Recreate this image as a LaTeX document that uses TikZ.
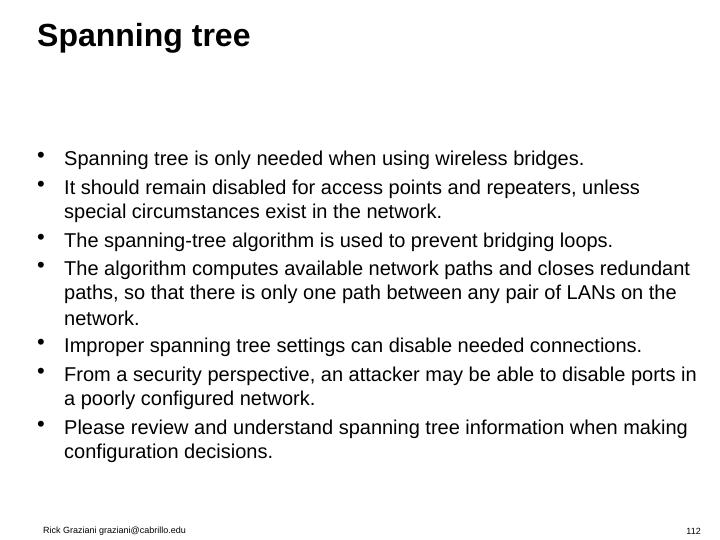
\documentclass[tikz,border=0pt]{standalone}
\usepackage{fontspec}
\setmainfont{Liberation Sans}
\begin{document}
\begin{tikzpicture}[x=1pt,y=-1pt,
  body/.style={anchor=west,inner sep=0pt,font=\fontsize{20}{24}\selectfont},
  bul/.style={anchor=center,inner sep=0pt,font=\fontsize{22}{24}\selectfont}]
\useasboundingbox (0,0) rectangle (720,540);
\node[anchor=west,inner sep=0pt,font=\fontsize{32}{36}\bfseries] (title) at (37,38) {Spanning tree};
\foreach \y in {157,186,239,267,344,373,426} \node[bul] at (41,\y) {•};
\node[body] (l1) at (64,160) {Spanning tree is only needed when using wireless bridges.};
\node[body] (l2) at (64,189) {It should remain disabled for access points and repeaters, unless};
\node[body] (l3) at (64,213) {special circumstances exist in the network.};
\node[body] (l4) at (64,242) {The spanning-tree algorithm is used to prevent bridging loops.};
\node[body] (l5) at (64,270) {The algorithm computes available network paths and closes redundant};
\node[body] (l6) at (64,294) {paths, so that there is only one path between any pair of LANs on the};
\node[body] (l7) at (64,318) {network.};
\node[body] (l8) at (64,347) {Improper spanning tree settings can disable needed connections.};
\node[body] (l9) at (64,376) {From a security perspective, an attacker may be able to disable ports in};
\node[body] (l10) at (64,400) {a poorly configured network.};
\node[body] (l11) at (64,429) {Please review and understand spanning tree information when making};
\node[body] (l12) at (64,453) {configuration decisions.};
\node[anchor=west,inner sep=0pt,font=\fontsize{9}{11}\selectfont] (foot) at (43,531) {Rick Graziani graziani@cabrillo.edu};
\node[anchor=east,inner sep=0pt,font=\fontsize{9}{11}\selectfont] (pg) at (701,531) {112};
\end{tikzpicture}
\end{document}
